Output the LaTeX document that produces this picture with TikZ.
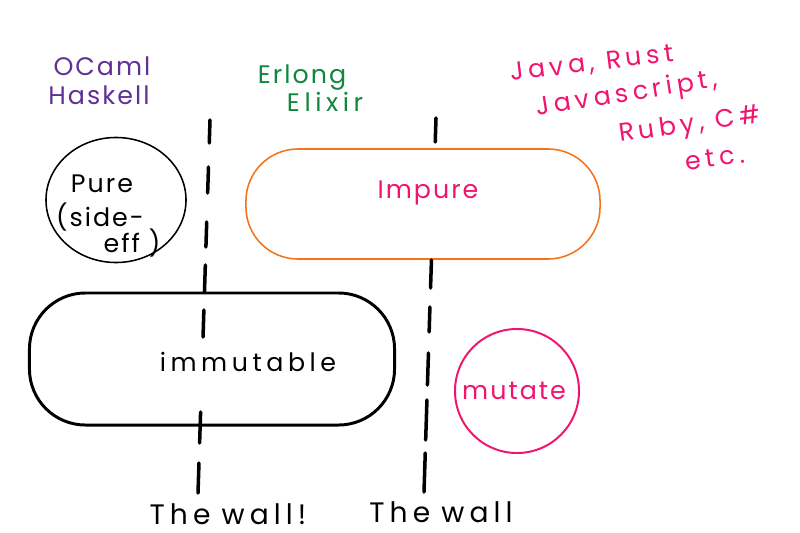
\documentclass[tikz,border=0pt]{standalone}
\usepackage{fontspec}
\setmainfont{Poppins}
\newfontfamily\hand[LetterSpace=8]{Poppins}
\newfontfamily\handwide[LetterSpace=18]{Poppins}
\usetikzlibrary{calc,positioning,shapes}
\definecolor{ocamlpurple}{RGB}{96,48,150}
\definecolor{erlanggreen}{RGB}{16,135,60}
\definecolor{hotpink}{RGB}{240,20,110}
\definecolor{sketchorange}{RGB}{245,115,30}
\tikzstyle{scrawl}=[inner sep=0pt,font=\hand\fontsize{18}{22}\selectfont]
\tikzstyle{widescrawl}=[inner sep=0pt,font=\handwide\fontsize{18}{22}\selectfont]
\tikzstyle{blob}=[draw,rectangle,inner sep=0pt]
\tikzstyle{wallline}=[line width=2.5pt,line cap=round]

\begin{document}
\begin{tikzpicture}[x=0.025cm,y=-0.025cm]
	\useasboundingbox (0,0) rectangle (800,532);
%--------------------start object code --------------------
	%Pure circle
	\node[draw,ellipse,line width=1.1pt,minimum width=3.5cm,minimum height=3.125cm,inner sep=0pt] (pure) at (116,200) {};
	\node[scrawl] (purelabel) at (102,184) {Pure};
	\node[scrawl] (sidelabel) at (100,217) {(side-};
	\node[scrawl] (efflabel) at (132,243) {eff )};
	
	%Impure blob
	\node[blob,draw=sketchorange,line width=1.1pt,rounded corners=1.3cm,minimum width=8.85cm,minimum height=2.75cm] (impure) at (423,204) {};
	\node[scrawl,text=hotpink] (impurelabel) at (428,193) {Impure};
	
	%Immutable blob
	\node[blob,line width=2.1pt,rounded corners=1.4cm,minimum width=9.125cm,minimum height=3.3cm] (immutable) at (212,359) {};
	\node[widescrawl] (immutablelabel) at (248,362) {immutable};
	
	%Mutate circle
	\node[draw=hotpink,circle,line width=1.4pt,minimum size=3.1cm,inner sep=0pt] (mutate) at (517,391) {};
	\node[scrawl,text=hotpink] (mutatelabel) at (514,391) {mutate};
	
	%Languages
	\node[scrawl,text=ocamlpurple] (ocaml) at (102,66) {OCaml};
	\node[scrawl,text=ocamlpurple] (haskell) at (99,95) {Haskell};
	\node[scrawl,text=erlanggreen] (erlang) at (302,78) {Erlong};
	\node[widescrawl,text=erlanggreen] (elixir) at (325,102) {Elixir};
	\node[widescrawl,text=hotpink,rotate=7] (java) at (592,64) {Java, Rust};
	\node[widescrawl,text=hotpink,rotate=9] (javascript) at (627,95) {Javascript,};
	\node[widescrawl,text=hotpink,rotate=8] (ruby) at (690,126) {Ruby, C\#};
	\node[widescrawl,text=hotpink,rotate=7] (etc) at (715,158) {etc.};
	
	%Wall one
	\coordinate (wallAtop) at (210,120);
	\coordinate (wallAbot) at (198,493);
	\foreach \a/\b in {120/143,167/193,222/247,265/292,310/337,412/443,463/493}
		\draw[wallline] ($(wallAtop)!{(\a-120)/373}!(wallAbot)$) -- ($(wallAtop)!{(\b-120)/373}!(wallAbot)$);
	\node[widescrawl,font=\handwide\fontsize{20}{24}\selectfont] (wallAlabel) at (228,514) {The\hspace{0.4em}wall!};
	
	%Wall two
	\coordinate (wallBtop) at (436,118);
	\coordinate (wallBbot) at (424,492);
	\foreach \a/\b in {118/142,260/288,307/332,353/385,400/440,453/492}
		\draw[wallline] ($(wallBtop)!{(\a-118)/374}!(wallBbot)$) -- ($(wallBtop)!{(\b-118)/374}!(wallBbot)$);
	\node[widescrawl,font=\handwide\fontsize{20}{24}\selectfont] (wallBlabel) at (441,512) {The\hspace{0.4em}wall};
%-------------------------end object code-----------------------
\end{tikzpicture}
\end{document}
